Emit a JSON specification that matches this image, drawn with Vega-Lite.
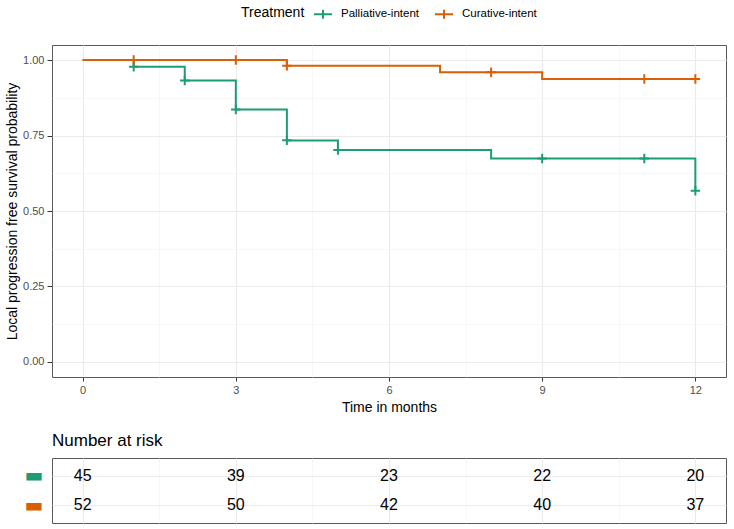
{
  "$schema": "https://vega.github.io/schema/vega-lite/v6.json",
  "padding": {"left": 5, "right": 7, "top": 3, "bottom": 5},
  "background": "white",
  "spacing": 16,
  "resolve": {"legend": {"color": "independent"}},
  "config": {
    "font": "Liberation Sans",
    "view": {"stroke": "#595959", "strokeWidth": 1},
    "axis": {
      "labelFont": "Liberation Sans",
      "labelFontSize": 11,
      "labelColor": "#4D4D4D",
      "titleFont": "Liberation Sans",
      "titleFontSize": 14,
      "titleFontWeight": "normal",
      "titleColor": "black",
      "tickColor": "#333333",
      "tickSize": 4,
      "domain": false,
      "gridColor": "#EBEBEB",
      "labelOverlap": false,
      "labelFlush": false
    },
    "legend": {
      "labelFont": "Liberation Sans",
      "titleFont": "Liberation Sans"
    }
  },
  "datasets": {
    "curve": [
      {"group": "Palliative-intent", "time": 0, "surv": 1.0},
      {"group": "Palliative-intent", "time": 1, "surv": 0.978},
      {"group": "Palliative-intent", "time": 2, "surv": 0.932},
      {"group": "Palliative-intent", "time": 3, "surv": 0.836},
      {"group": "Palliative-intent", "time": 4, "surv": 0.734},
      {"group": "Palliative-intent", "time": 5, "surv": 0.702},
      {"group": "Palliative-intent", "time": 8, "surv": 0.674},
      {"group": "Palliative-intent", "time": 12, "surv": 0.567},
      {"group": "Curative-intent", "time": 0, "surv": 1.0},
      {"group": "Curative-intent", "time": 4, "surv": 0.981},
      {"group": "Curative-intent", "time": 7, "surv": 0.960},
      {"group": "Curative-intent", "time": 9, "surv": 0.937},
      {"group": "Curative-intent", "time": 12, "surv": 0.937}
    ],
    "censor": [
      {"group": "Palliative-intent", "time": 1, "surv": 0.978},
      {"group": "Palliative-intent", "time": 2, "surv": 0.932},
      {"group": "Palliative-intent", "time": 3, "surv": 0.836},
      {"group": "Palliative-intent", "time": 4, "surv": 0.734},
      {"group": "Palliative-intent", "time": 5, "surv": 0.702},
      {"group": "Palliative-intent", "time": 9, "surv": 0.674},
      {"group": "Palliative-intent", "time": 11, "surv": 0.674},
      {"group": "Palliative-intent", "time": 12, "surv": 0.567},
      {"group": "Curative-intent", "time": 1, "surv": 1.0},
      {"group": "Curative-intent", "time": 3, "surv": 1.0},
      {"group": "Curative-intent", "time": 4, "surv": 0.981},
      {"group": "Curative-intent", "time": 8, "surv": 0.960},
      {"group": "Curative-intent", "time": 11, "surv": 0.937},
      {"group": "Curative-intent", "time": 12, "surv": 0.937}
    ],
    "risk": [
      {"group": "Palliative-intent", "time": 0, "n": 45},
      {"group": "Palliative-intent", "time": 3, "n": 39},
      {"group": "Palliative-intent", "time": 6, "n": 23},
      {"group": "Palliative-intent", "time": 9, "n": 22},
      {"group": "Palliative-intent", "time": 12, "n": 20},
      {"group": "Curative-intent", "time": 0, "n": 52},
      {"group": "Curative-intent", "time": 3, "n": 50},
      {"group": "Curative-intent", "time": 6, "n": 42},
      {"group": "Curative-intent", "time": 9, "n": 40},
      {"group": "Curative-intent", "time": 12, "n": 37}
    ]
  },
  "vconcat": [
    {
      "width": 674,
      "height": 332,
      "layer": [
        {
          "data": {"name": "curve"},
          "transform": [{"filter": "datum.group === 'Palliative-intent'"}],
          "mark": {"type": "line", "interpolate": "step-after", "strokeWidth": 2},
          "encoding": {
            "x": {
              "field": "time", "type": "quantitative",
              "scale": {"domain": [-0.6, 12.6], "nice": false, "zero": false},
              "axis": {
                "title": "Time in months",
                "values": [0, 1.5, 3, 4.5, 6, 7.5, 9, 10.5, 12],
                "labelExpr": "datum.value % 3 === 0 ? datum.label : ''",
                "tickOpacity": {"condition": {"test": "datum.value % 3 !== 0", "value": 0}, "value": 1},
                "gridColor": {"condition": {"test": "datum.value % 3 !== 0", "value": "#F3F3F3"}, "value": "#EBEBEB"},
                "gridWidth": {"condition": {"test": "datum.value % 3 !== 0", "value": 0.7}, "value": 1.1},
                "labelPadding": 3,
                "titlePadding": 5
              }
            },
            "y": {
              "field": "surv", "type": "quantitative",
              "scale": {"domain": [-0.05, 1.05], "nice": false, "zero": false},
              "axis": {
                "title": "Local progression free survival probability",
                "values": [0, 0.125, 0.25, 0.375, 0.5, 0.625, 0.75, 0.875, 1],
                "format": ".2f",
                "labelExpr": "(datum.value * 8) % 2 === 0 ? datum.label : ''",
                "tickOpacity": {"condition": {"test": "(datum.value * 8) % 2 !== 0", "value": 0}, "value": 1},
                "gridColor": {"condition": {"test": "(datum.value * 8) % 2 !== 0", "value": "#F3F3F3"}, "value": "#EBEBEB"},
                "gridWidth": {"condition": {"test": "(datum.value * 8) % 2 !== 0", "value": 0.7}, "value": 1.1},
                "tickSize": 5,
                "labelPadding": 3,
                "titlePadding": 3
              }
            },
            "color": {
              "field": "group", "type": "nominal",
              "scale": {"domain": ["Palliative-intent", "Curative-intent"], "range": ["#1B9E77", "#D95F02"]},
              "legend": {
                "title": "Treatment",
                "orient": "none",
                "legendX": 189,
                "legendY": -41,
                "direction": "horizontal",
                "titleOrient": "left",
                "titleFontSize": 14,
                "titleFontWeight": "normal",
                "titleColor": "black",
                "titlePadding": 8,
                "labelFontSize": 11.5,
                "labelColor": "black",
                "labelOffset": 8,
                "columnPadding": 12,
                "symbolType": "M-1,0H1M0,-0.5V0.5",
                "symbolSize": 324,
                "symbolStrokeWidth": 2
              }
            }
          }
        },
        {
          "data": {"name": "curve"},
          "transform": [{"filter": "datum.group === 'Curative-intent'"}],
          "mark": {"type": "line", "interpolate": "step-after", "strokeWidth": 2},
          "encoding": {
            "x": {"field": "time", "type": "quantitative", "title": "Time in months"},
            "y": {"field": "surv", "type": "quantitative", "title": "Local progression free survival probability"},
            "color": {"field": "group", "type": "nominal", "title": "Treatment"}
          }
        },
        {
          "data": {"name": "censor"},
          "mark": {"type": "point", "shape": "M-1,0H1M0,-1V1", "filled": false, "strokeWidth": 2, "size": 90, "opacity": 1},
          "encoding": {
            "x": {"field": "time", "type": "quantitative", "title": "Time in months"},
            "y": {"field": "surv", "type": "quantitative", "title": "Local progression free survival probability"},
            "color": {"field": "group", "type": "nominal", "title": "Treatment"}
          }
        }
      ]
    },
    {
      "width": 674,
      "height": 65,
      "title": {"text": "Number at risk", "anchor": "start", "frame": "group", "fontSize": 17, "fontWeight": "normal", "color": "black", "font": "Liberation Sans", "offset": 8},
      "data": {"name": "risk"},
      "mark": {"type": "text", "fontSize": 16, "font": "Liberation Sans", "color": "black"},
      "encoding": {
        "x": {
          "field": "time", "type": "quantitative",
          "scale": {"domain": [-0.6, 12.6], "nice": false, "zero": false},
          "axis": {
            "title": null,
            "values": [0, 1.5, 3, 4.5, 6, 7.5, 9, 10.5, 12],
            "labels": false,
            "ticks": false,
            "gridColor": {"condition": {"test": "datum.value % 3 !== 0", "value": "#F3F3F3"}, "value": "#EBEBEB"},
            "gridWidth": {"condition": {"test": "datum.value % 3 !== 0", "value": 0.7}, "value": 1.1}
          }
        },
        "y": {
          "field": "group", "type": "nominal",
          "scale": {"type": "point", "domain": ["Palliative-intent", "Curative-intent"], "padding": 0.62},
          "axis": {
            "title": null,
            "labelExpr": "'▬'",
            "labelFont": "DejaVu Sans",
            "labelFontSize": 20,
            "labelColor": {"condition": {"test": "datum.value === 'Palliative-intent'", "value": "#1B9E77"}, "value": "#D95F02"},
            "ticks": false,
            "labelPadding": 9,
            "grid": true,
            "gridWidth": 1.1
          }
        },
        "text": {"field": "n", "type": "quantitative"}
      }
    }
  ]
}
